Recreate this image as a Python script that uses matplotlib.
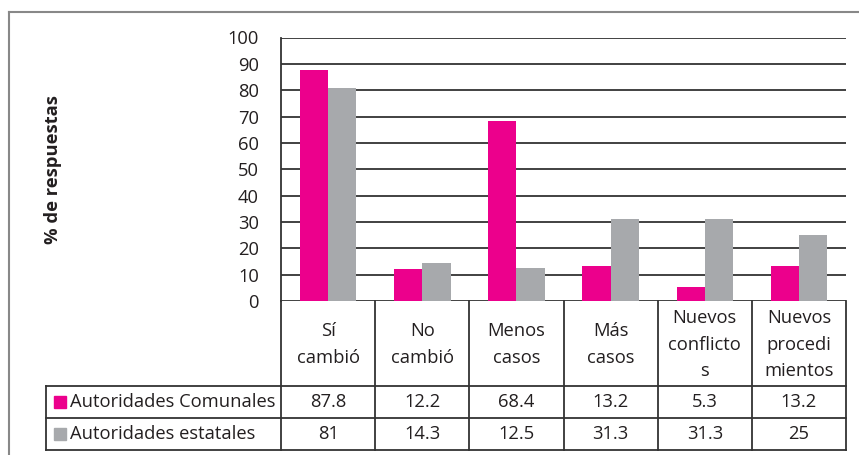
import matplotlib.pyplot as plt
from matplotlib.lines import Line2D
from matplotlib.patches import Rectangle
import matplotlib.transforms as mtransforms

# datos del grafico
categorias = ["Sí\ncambió", "No\ncambió", "Menos\ncasos", "Más\ncasos",
              "Nuevos\nconflicto\ns", "Nuevos\nprocedi\nmientos"]
series = ["Autoridades Comunales", "Autoridades estatales"]
comunales = [87.8, 12.2, 68.4, 13.2, 5.3, 13.2]
estatales = [81, 14.3, 12.5, 31.3, 31.3, 25]
colores = ["#EC008C", "#A7A9AC"]
yticks = list(range(0, 101, 10))

plt.rcParams['font.family'] = ['Open Sans', 'DejaVu Sans']
FS = 13.2
TXT = "#231F20"
W, H = 859, 455

fig = plt.figure(figsize=(W / 100, H / 100), dpi=100)


def fx(px):
    return px / W


def fy(py):
    return 1 - py / H


# area del grafico
x0, x1, y0, y1 = 281, 846, 37.5, 301
ax = fig.add_axes([fx(x0), fy(y1), fx(x1) - fx(x0), fy(y0) - fy(y1)])

n = len(categorias)
ancho = 0.3
xs = list(range(n))
ax.bar([x - ancho / 2 for x in xs], comunales, width=ancho, color=colores[0], zorder=3)
ax.bar([x + ancho / 2 for x in xs], estatales, width=ancho, color=colores[1], zorder=3)

ax.set_xlim(-0.5, n - 0.5)
ax.set_ylim(0, 100)
ax.set_yticks(yticks)
ax.set_yticklabels([str(t) for t in yticks], fontsize=FS, color=TXT)
ax.tick_params(axis="y", length=0, pad=16)
ax.set_xticks([])
ax.yaxis.grid(True, color="#333333", linewidth=1.3, zorder=0)
for s in ["top", "right", "bottom"]:
    ax.spines[s].set_visible(False)
ax.spines["left"].set_color("#333333")
ax.spines["left"].set_linewidth(1.3)

fig.text(fx(53), fy(170), "% de respuestas", rotation=90, ha="center", va="center",
         fontsize=FS, fontweight="bold", color=TXT)

# tabla de datos debajo del grafico
lc = "#333333"
lw = 1.3
ft = fig.transFigure
tabla_izq = 46
fila_h, fila1, fila2 = 386, 418, 450
trans = mtransforms.blended_transform_factory(ax.transData, ft)

for y in [fila_h, fila1, fila2]:
    fig.add_artist(Line2D([fx(tabla_izq), fx(x1)], [fy(y), fy(y)], color=lc, lw=lw, transform=ft))
fig.add_artist(Line2D([fx(tabla_izq), fx(tabla_izq)], [fy(fila_h), fy(fila2)], color=lc, lw=lw, transform=ft))
for b in range(n + 1):
    fig.add_artist(Line2D([b - 0.5, b - 0.5], [fy(y1), fy(fila2)], color=lc, lw=lw,
                          transform=trans, clip_on=False))

for i, cat in enumerate(categorias):
    fig.text(i, fy((y1 + fila_h) / 2 + 1), cat, transform=trans, ha="center", va="center",
             fontsize=FS, linespacing=1.6, color=TXT)
    fig.text(i, fy((fila_h + fila1) / 2), f"{comunales[i]:g}", transform=trans,
             ha="center", va="center", fontsize=FS, color=TXT)
    fig.text(i, fy((fila1 + fila2) / 2), f"{estatales[i]:g}", transform=trans,
             ha="center", va="center", fontsize=FS, color=TXT)

for j, (nombre, c) in enumerate(zip(series, colores)):
    yc = [(fila_h + fila1) / 2, (fila1 + fila2) / 2][j]
    fig.add_artist(Rectangle((fx(54), fy(yc + 6)), fx(12), fy(0) - fy(12), color=c, transform=ft))
    fig.text(fx(70), fy(yc), nombre, ha="left", va="center", fontsize=FS, color=TXT)

# marco exterior
fig.add_artist(Line2D([fx(9), fx(9)], [fy(12), 0], color="#888888", lw=1.5, transform=ft))
fig.add_artist(Line2D([fx(9), 1], [fy(12), fy(12)], color="#888888", lw=1.5, transform=ft))

fig.savefig("out.png", dpi=100)
